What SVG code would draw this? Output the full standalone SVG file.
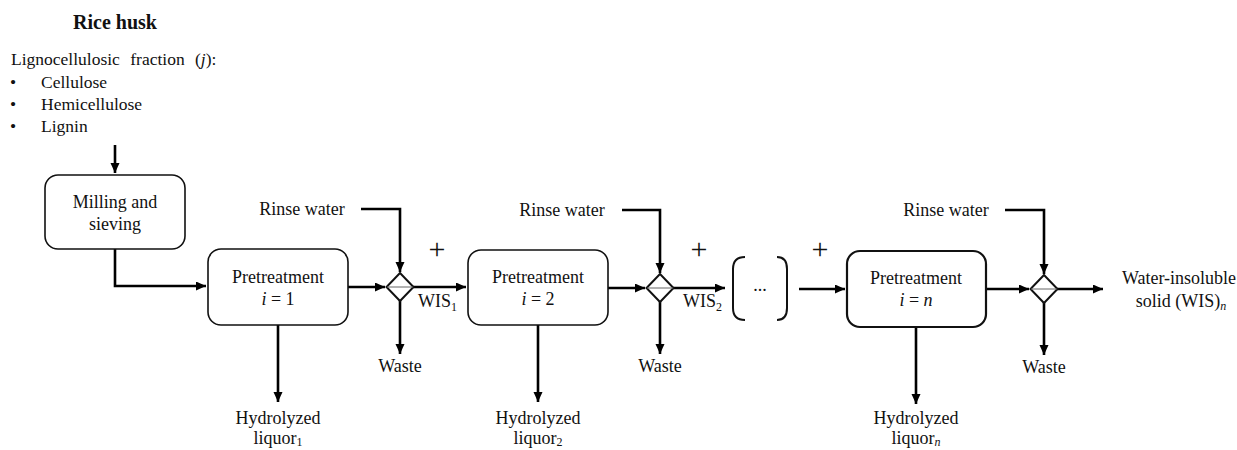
<svg xmlns="http://www.w3.org/2000/svg" width="1237" height="450" viewBox="0 0 1237 450">
<style>
text{font-family:"Liberation Serif","Times New Roman",serif;font-size:18px;fill:#111}
.c{text-anchor:middle}
.t{font-weight:bold;font-size:20px}
.l{font-size:17.5px}
.i{font-style:italic}
.plus{font-size:30px}
.box{fill:#fff;stroke:#111;stroke-width:1.6}
.dia{fill:#fff;stroke:#111;stroke-width:2}
.mid{stroke:#666;stroke-width:1}
.ln{fill:none;stroke:#000;stroke-width:2.6}
.br{fill:none;stroke:#111;stroke-width:2}
</style>
<defs>
<marker id="ah" markerUnits="userSpaceOnUse" markerWidth="11" markerHeight="10" refX="10" refY="4.5" orient="auto">
<path d="M0,0 L10,4.5 L0,9 z" fill="#000"/>
</marker>
</defs>
<rect width="1237" height="450" fill="#fff"/>

<g id="header">
<text class="t" x="73" y="29">Rice husk</text>
<text class="l" x="11" y="65" style="word-spacing:6px">Lignocellulosic fraction (<tspan class="i">j</tspan>):</text>
<text class="l" x="10" y="88">•</text><text class="l" x="41" y="88">Cellulose</text>
<text class="l" x="10" y="110">•</text><text class="l" x="41" y="110">Hemicellulose</text>
<text class="l" x="10" y="132">•</text><text class="l" x="41" y="132">Lignin</text>
</g>

<g id="connectors">
<path class="ln" d="M115,145 V173" marker-end="url(#ah)"/>
<path class="ln" d="M115,249 V286 H206" marker-end="url(#ah)"/>
<path class="ln" d="M348,287 H385" marker-end="url(#ah)"/>
<path class="ln" d="M361,209 H400 V272" marker-end="url(#ah)"/>
<path class="ln" d="M400,300 V354" marker-end="url(#ah)"/>
<path class="ln" d="M413,287 H466" marker-end="url(#ah)"/>
<path class="ln" d="M278,325 V402" marker-end="url(#ah)"/>
<path class="ln" d="M608,288 H645" marker-end="url(#ah)"/>
<path class="ln" d="M622,210 H660 V273" marker-end="url(#ah)"/>
<path class="ln" d="M660,301 V354" marker-end="url(#ah)"/>
<path class="ln" d="M673,288 H725" marker-end="url(#ah)"/>
<path class="ln" d="M538,325 V402" marker-end="url(#ah)"/>
<path class="ln" d="M799,289 H845" marker-end="url(#ah)"/>
<path class="ln" d="M916,327 V404" marker-end="url(#ah)"/>
<path class="ln" d="M986,289 H1029" marker-end="url(#ah)"/>
<path class="ln" d="M1005,210 H1044 V274" marker-end="url(#ah)"/>
<path class="ln" d="M1044,302 V355" marker-end="url(#ah)"/>
<path class="ln" d="M1057,289 H1103" marker-end="url(#ah)"/>
</g>

<g id="milling">
<rect class="box" x="45" y="175" width="140" height="74" rx="13"/>
<text class="c" x="115" y="208">Milling and</text>
<text class="c" x="115" y="230">sieving</text>
</g>

<g id="pretreatment1">
<rect class="box" x="208" y="249" width="140" height="76" rx="13"/>
<text class="c" x="278" y="283">Pretreatment</text>
<text class="c" x="278" y="305"><tspan class="i">i</tspan> = 1</text>
</g>

<g id="rinse1">
<text class="c" x="302" y="215">Rinse water</text>
</g>
<g id="separator1">
<path class="dia" d="M400,273 L413.5,287 L400,301 L386.5,287 z"/>
<line class="mid" x1="387" y1="287" x2="413" y2="287"/>
</g>
<g id="waste1"><text class="c" x="400" y="372">Waste</text></g>
<g id="wis1"><text x="418" y="307">WIS<tspan font-size="12" dy="4">1</tspan></text><text class="plus c" x="437" y="259">+</text></g>
<g id="liquor1">
<text class="c" x="278" y="424">Hydrolyzed</text>
<text class="c" x="278" y="444">liquor<tspan font-size="12" dy="2">1</tspan></text>
</g>

<g id="pretreatment2">
<rect class="box" x="468" y="250" width="140" height="75" rx="13"/>
<text class="c" x="538" y="283">Pretreatment</text>
<text class="c" x="538" y="305"><tspan class="i">i</tspan> = 2</text>
</g>
<g id="rinse2"><text class="c" x="562" y="216">Rinse water</text></g>
<g id="separator2">
<path class="dia" d="M660,274 L673.5,288 L660,302 L646.5,288 z"/>
<line class="mid" x1="647" y1="288" x2="673" y2="288"/>
</g>
<g id="waste2"><text class="c" x="660" y="372">Waste</text></g>
<g id="wis2"><text x="683" y="307">WIS<tspan font-size="12" dy="4">2</tspan></text><text class="plus c" x="699" y="259">+</text></g>
<g id="liquor2">
<text class="c" x="538" y="424">Hydrolyzed</text>
<text class="c" x="538" y="444">liquor<tspan font-size="12" dy="2">2</tspan></text>
</g>

<g id="ellipsis">
<path class="br" d="M745,257 Q733,257 733,269 L733,308 Q733,320 745,320"/>
<path class="br" d="M777,257 Q787,257 787,269 L787,308 Q787,320 777,320"/>
<text class="c" x="760" y="291">...</text>
<text class="plus c" x="820" y="259">+</text>
</g>

<g id="pretreatmentn">
<rect class="box" x="847" y="251" width="139" height="76" rx="13" style="stroke-width:2.2"/>
<text class="c" x="916" y="284">Pretreatment</text>
<text class="c" x="916" y="306"><tspan class="i">i</tspan> = <tspan class="i">n</tspan></text>
</g>
<g id="rinse3"><text class="c" x="946" y="216">Rinse water</text></g>
<g id="separator3">
<path class="dia" d="M1044,275 L1057.5,289 L1044,303 L1030.5,289 z"/>
<line class="mid" x1="1031" y1="289" x2="1057" y2="289"/>
</g>
<g id="waste3"><text class="c" x="1044" y="373">Waste</text></g>
<g id="liquorn">
<text class="c" x="916" y="424">Hydrolyzed</text>
<text class="c" x="916" y="444">liquor<tspan class="i" font-size="12" dy="2">n</tspan></text>
</g>
<g id="output">
<text class="c" x="1179" y="284">Water-insoluble</text>
<text class="c" x="1181" y="307">solid (WIS)<tspan class="i" font-size="12" dy="3">n</tspan></text>
</g>
</svg>
